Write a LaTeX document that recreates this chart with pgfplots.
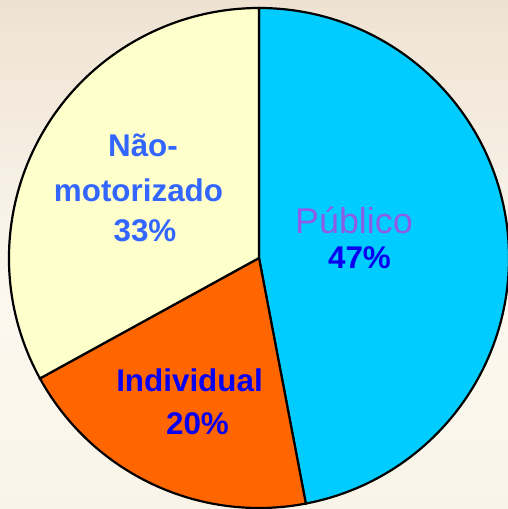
\documentclass[border=0pt]{standalone}
\usepackage{pgfplots}
\usepackage{pgfplotstable}
\pgfplotsset{compat=1.18}
\usepackage{fontspec}
\setmainfont{Liberation Sans}
\definecolor{cPub}{HTML}{00CCFF}
\definecolor{cInd}{HTML}{FF6600}
\definecolor{cNao}{HTML}{FFFFCC}
\definecolor{tPub}{HTML}{8E5CE8}
\definecolor{tBlue}{HTML}{0A00F0}
\definecolor{tNao}{HTML}{3366FF}
\definecolor{bgA}{HTML}{D2BEA8}
\definecolor{bgB}{HTML}{F0E5D6}
\definecolor{bgC}{HTML}{FCF8EF}
\definecolor{bgD}{HTML}{F7EFDF}
\pgfdeclareverticalshading{bgshade}{100bp}{color(0bp)=(bgD); color(45bp)=(bgC); color(72bp)=(bgB); color(100bp)=(bgA)}
\pgfplotstableread{
label value
Publico 47
Individual 20
NaoMotorizado 33
}\piedata
\tikzset{lbl/.style={anchor=base, inner sep=0pt, font=\fontsize{31.5}{41}\selectfont\bfseries}}
\begin{document}
\begin{tikzpicture}
\pgfplotstablegetelem{0}{value}\of\piedata \pgfmathsetmacro{\va}{\pgfplotsretval}
\pgfplotstablegetelem{1}{value}\of\piedata \pgfmathsetmacro{\vb}{\pgfplotsretval}
\pgfplotstablegetelem{2}{value}\of\piedata \pgfmathsetmacro{\vc}{\pgfplotsretval}
\pgfmathsetmacro{\aA}{90}
\pgfmathsetmacro{\aB}{\aA-3.6*\va}
\pgfmathsetmacro{\aC}{\aB-3.6*\vb}
\pgfmathsetmacro{\aD}{\aC-3.6*\vc}
\begin{axis}[
  scale only axis, width=508bp, height=509bp,
  xmin=0, xmax=508, ymin=0, ymax=509,
  hide axis, clip=true,
]
\addplot[draw=none, fill=none] coordinates {(0,0) (508,509)};
\fill[shading=bgshade] (axis cs:0,0) rectangle (axis cs:508,509);
\filldraw[fill=cPub, draw=black, line width=2.2bp] (axis cs:259,251) -- ++(\aA:250bp) arc[start angle=\aA, end angle=\aB, radius=250bp] -- cycle;
\filldraw[fill=cInd, draw=black, line width=2.2bp] (axis cs:259,251) -- ++(\aB:250bp) arc[start angle=\aB, end angle=\aC, radius=250bp] -- cycle;
\filldraw[fill=cNao, draw=black, line width=2.2bp] (axis cs:259,251) -- ++(\aC:250bp) arc[start angle=\aC, end angle=\aD, radius=250bp] -- cycle;
\node[lbl, text=tNao] at (axis cs:143,352.3) {Não-};
\node[lbl, text=tNao] at (axis cs:138.5,307.3) {motorizado};
\node[lbl, text=tNao] at (axis cs:145,267.3) {33\%};
\node[lbl, text=tBlue] at (axis cs:189.5,117.3) {Individual};
\node[lbl, text=tBlue] at (axis cs:197.5,74) {20\%};
\node[lbl, text=tBlue] at (axis cs:359.5,240) {47\%};
\node[anchor=base, text=tPub, inner sep=0pt, font=\fontsize{36}{42}\selectfont] at (axis cs:354,275.7) {Público};
\end{axis}
\end{tikzpicture}
\end{document}
